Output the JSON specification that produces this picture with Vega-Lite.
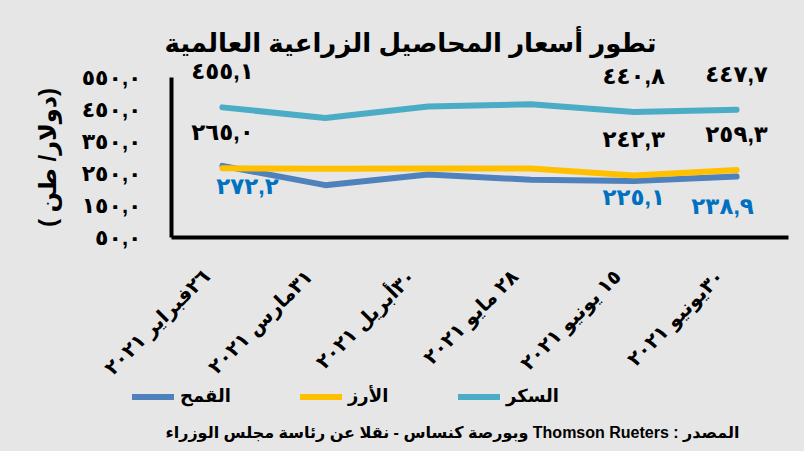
{
  "$schema": "https://vega.github.io/schema/vega-lite/v6.json",
  "width": 617,
  "height": 160,
  "autosize": {"type": "none"},
  "padding": {"left": 171, "top": 77, "right": 16, "bottom": 214},
  "background": "#e6e6e6",
  "config": {"view": {"stroke": null}, "font": "Liberation Sans, DejaVu Sans"},
  "title": {
    "text": "تطور أسعار المحاصيل الزراعية العالمية",
    "fontSize": 26,
    "fontWeight": "bold",
    "color": "black",
    "anchor": "middle",
    "frame": "group",
    "dx": -69,
    "offset": 4
  },
  "data": {
    "values": [
      {"date": "٢٦فبراير ٢٠٢١", "crop": "القمح", "price": 272.2, "label": "٢٧٢,٢"},
      {"date": "٣١مارس ٢٠٢١", "crop": "القمح", "price": 212, "label": ""},
      {"date": "٣٠أبريل ٢٠٢١", "crop": "القمح", "price": 245, "label": ""},
      {"date": "٢٨ مايو ٢٠٢١", "crop": "القمح", "price": 229, "label": ""},
      {"date": "١٥ يونيو ٢٠٢١", "crop": "القمح", "price": 225.1, "label": "٢٢٥,١"},
      {"date": "٣٠يونيو ٢٠٢١", "crop": "القمح", "price": 238.9, "label": "٢٣٨,٩"},
      {"date": "٢٦فبراير ٢٠٢١", "crop": "الأرز", "price": 265.0, "label": "٢٦٥,٠"},
      {"date": "٣١مارس ٢٠٢١", "crop": "الأرز", "price": 263, "label": ""},
      {"date": "٣٠أبريل ٢٠٢١", "crop": "الأرز", "price": 264, "label": ""},
      {"date": "٢٨ مايو ٢٠٢١", "crop": "الأرز", "price": 264, "label": ""},
      {"date": "١٥ يونيو ٢٠٢١", "crop": "الأرز", "price": 242.3, "label": "٢٤٢,٣"},
      {"date": "٣٠يونيو ٢٠٢١", "crop": "الأرز", "price": 259.3, "label": "٢٥٩,٣"},
      {"date": "٢٦فبراير ٢٠٢١", "crop": "السكر", "price": 455.1, "label": "٤٥٥,١"},
      {"date": "٣١مارس ٢٠٢١", "crop": "السكر", "price": 422, "label": ""},
      {"date": "٣٠أبريل ٢٠٢١", "crop": "السكر", "price": 458, "label": ""},
      {"date": "٢٨ مايو ٢٠٢١", "crop": "السكر", "price": 465, "label": ""},
      {"date": "١٥ يونيو ٢٠٢١", "crop": "السكر", "price": 440.8, "label": "٤٤٠,٨"},
      {"date": "٣٠يونيو ٢٠٢١", "crop": "السكر", "price": 447.7, "label": "٤٤٧,٧"}
    ]
  },
  "encoding": {
    "x": {
      "field": "date",
      "type": "ordinal",
      "sort": null,
      "scale": {"type": "point", "padding": 0.5},
      "axis": {
        "labelAngle": -45,
        "labelAlign": "right",
        "labelBaseline": "middle",
        "labelPadding": 36,
        "labelOffset": -16,
        "labelFontSize": 20,
        "labelFontWeight": "bold",
        "labelColor": "black",
        "labelLimit": 400,
        "labelOverlap": false,
        "ticks": false,
        "grid": false,
        "domainColor": "black",
        "domainWidth": 4,
        "title": "‫المصدر :  Thomson Rueters  وبورصة كنساس - نقلا عن رئاسة مجلس الوزراء‬",
        "titleX": 281,
        "titleY": 195,
        "titleAlign": "center",
        "titleBaseline": "middle",
        "titleFontSize": 16,
        "titleFontWeight": "bold",
        "titleColor": "black"
      }
    },
    "y": {
      "field": "price",
      "type": "quantitative",
      "scale": {"domain": [50, 550], "nice": false, "zero": false},
      "axis": {
        "values": [50, 150, 250, 350, 450, 550],
        "labelExpr": "datum.value == 550 ? '٥٥٠,٠' : datum.value == 450 ? '٤٥٠,٠' : datum.value == 350 ? '٣٥٠,٠' : datum.value == 250 ? '٢٥٠,٠' : datum.value == 150 ? '١٥٠,٠' : '٥٠,٠'",
        "labelPadding": 30,
        "labelFontSize": 22,
        "labelFontWeight": "bold",
        "labelColor": "black",
        "ticks": false,
        "grid": false,
        "domainColor": "black",
        "domainWidth": 4,
        "title": "( دولار/ طن)",
        "titleX": -123,
        "titleY": 80,
        "titleAngle": -90,
        "titleAlign": "center",
        "titleBaseline": "middle",
        "titleFontSize": 24,
        "titleFontWeight": "bold",
        "titleColor": "black"
      }
    }
  },
  "layer": [
    {
      "mark": {"type": "line", "strokeWidth": 6, "strokeCap": "round", "strokeJoin": "round"},
      "encoding": {
        "color": {
          "field": "crop",
          "type": "nominal",
          "scale": {"domain": ["القمح", "الأرز", "السكر"], "range": ["#4F81BD", "#FFC000", "#4BACC6"]},
          "legend": {
            "orient": "none",
            "legendX": -42,
            "legendY": 296,
            "direction": "horizontal",
            "title": null,
            "symbolType": "stroke",
            "symbolStrokeWidth": 6,
            "symbolSize": 1764,
            "labelFontSize": 18,
            "labelFontWeight": "bold",
            "labelColor": "black",
            "labelOffset": 3,
            "columnPadding": 57
          }
        }
      }
    },
    {
      "transform": [{"filter": "datum.label != '' && datum.crop != 'القمح'"}],
      "mark": {"type": "text", "dy": -35, "fontSize": 23, "fontWeight": "bold", "color": "black"},
      "encoding": {"text": {"field": "label"}}
    },
    {
      "transform": [{"filter": "datum.label != '' && datum.crop == 'القمح' && datum.price > 270"}],
      "mark": {"type": "text", "dx": 25, "dy": 21, "fontSize": 23, "fontWeight": "bold", "color": "#0070C0"},
      "encoding": {"text": {"field": "label"}}
    },
    {
      "transform": [{"filter": "datum.label != '' && datum.crop == 'القمح' && datum.price < 230"}],
      "mark": {"type": "text", "dy": 17, "fontSize": 23, "fontWeight": "bold", "color": "#0070C0"},
      "encoding": {"text": {"field": "label"}}
    },
    {
      "transform": [{"filter": "datum.label != '' && datum.crop == 'القمح' && datum.price > 230 && datum.price < 240"}],
      "mark": {"type": "text", "dx": -14, "dy": 30, "fontSize": 23, "fontWeight": "bold", "color": "#0070C0"},
      "encoding": {"text": {"field": "label"}}
    }
  ]
}
